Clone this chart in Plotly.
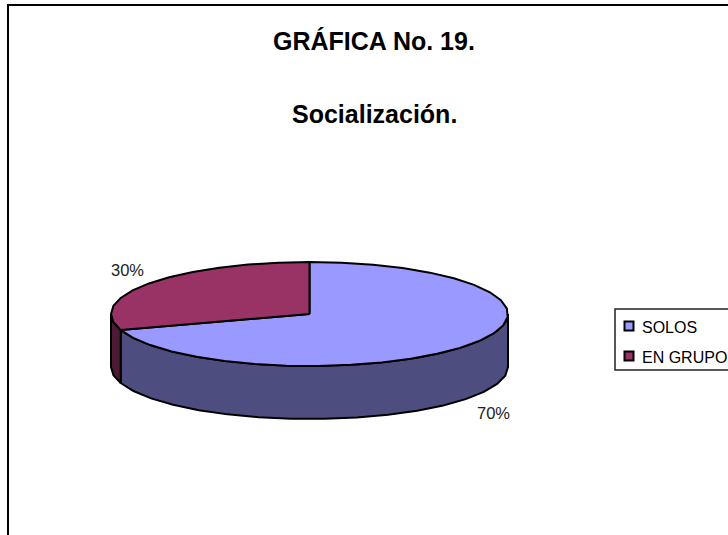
import numpy as np
import plotly.graph_objects as go

# Data
categories = ["SOLOS", "EN GRUPO"]
values = [70, 30]
title_lines = ["GRÁFICA No. 19.", "Socialización."]

# Colours
top_colors = ["#9999FF", "#993366"]
side_colors = ["#4D4D80", "#4D1A33"]

# Pie geometry on a pixel-sized axis
CX, CY, RX, RY, DEPTH = 309.5, 314, 198.5, 52, 53
W, H = 728, 535


def rim(a0, a1, dy=0.0, step=9.0):
    n = max(2, int(abs(a1 - a0) / step) + 1)
    t = np.radians(np.linspace(a0, a1, n))
    return CX + RX * np.sin(t), CY + dy - RY * np.cos(t)


fig = go.Figure()

total = sum(values)
angles = np.cumsum([0] + values) / total * 360.0

# Side walls: only the front half of the rim (90..270 degrees clockwise from 12) shows
for i in range(len(values)):
    a0, a1 = max(angles[i], 90), min(angles[i + 1], 270)
    if a1 <= a0:
        continue
    x0, y0 = rim(a0, a1)
    x1, y1 = rim(a1, a0, DEPTH)
    fig.add_trace(go.Scatter(
        x=np.r_[x0, x1, x0[0]], y=np.r_[y0, y1, y0[0]], mode="lines", fill="toself",
        fillcolor=side_colors[i], line=dict(color="#000000", width=2),
        hoverinfo="skip", showlegend=False))

# Top faces
for i in range(len(values)):
    x0, y0 = rim(angles[i], angles[i + 1])
    fig.add_trace(go.Scatter(
        x=np.r_[CX, x0, CX], y=np.r_[CY, y0, CY], mode="lines", fill="toself",
        fillcolor=top_colors[i], line=dict(color="#000000", width=2),
        name=categories[i], showlegend=False))

# Legend keys
fig.add_trace(go.Scatter(
    x=[629, 629], y=[326, 356], mode="markers",
    marker=dict(symbol="square", size=9, color=top_colors, line=dict(color="#000000", width=2)),
    hoverinfo="skip", showlegend=False))

ann = []
for txt, x, y in zip(title_lines, [373.5, 374.5], [41, 114]):
    ann.append(dict(x=x, y=y, text=f"<b>{txt}</b>", showarrow=False, xanchor="center", yanchor="middle",
                    font=dict(family="Liberation Sans", size=25, color="#000000")))
for txt, y in zip(categories, [327, 357]):
    ann.append(dict(x=640, y=y, text=txt, showarrow=False, xanchor="left", yanchor="middle",
                    font=dict(family="Liberation Sans", size=16, color="#000000")))
for v, x, y in zip(values, [493, 127], [413, 270]):
    ann.append(dict(x=x, y=y, text=f"{v}%", showarrow=False, xanchor="center", yanchor="middle",
                    font=dict(family="Liberation Sans", size=16.5, color="#222222")))

shapes = [
    # chart frame: open to the right and bottom, where the picture crops it
    dict(type="rect", x0=8, y0=5, x1=W + 20, y1=H + 20, line=dict(color="#000000", width=2), layer="below"),
    # legend box
    dict(type="rect", x0=615, y0=309, x1=W + 20, y1=370, line=dict(color="#222222", width=1.5), layer="below"),
]

fig.update_layout(
    width=W, height=H, margin=dict(l=0, r=0, t=0, b=0),
    paper_bgcolor="#FFFFFF", plot_bgcolor="#FFFFFF",
    xaxis=dict(range=[0, W], visible=False, fixedrange=True),
    yaxis=dict(range=[H, 0], visible=False, fixedrange=True),
    annotations=ann, shapes=shapes,
)

fig.write_html(
    "out.html",
    config=dict(displayModeBar=False),
    post_script="document.body.style.margin='0';document.body.style.overflow='hidden';",
)
